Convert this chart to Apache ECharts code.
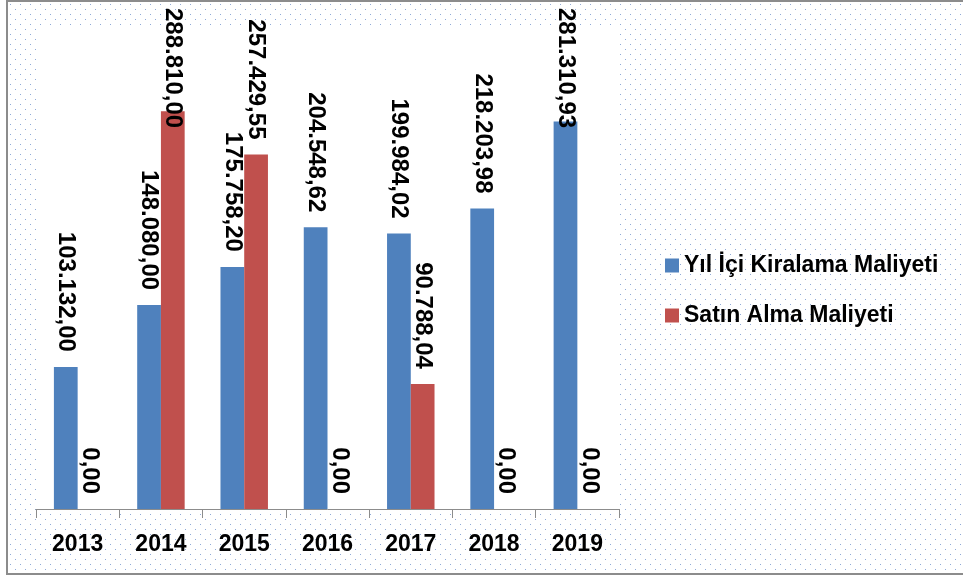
<!DOCTYPE html>
<html>
<head>
<meta charset="utf-8">
<script src="https://cdn.jsdelivr.net/npm/echarts@6/dist/echarts.min.js"></script>
<style>
  html, body { margin: 0; padding: 0; background: #fff; }
  #wrap { position: relative; width: 963px; height: 581px; overflow: hidden; background: #fff; }
  #frame { position: absolute; left: 6px; top: 0px; width: 980px; height: 575px; border: 2px solid #8c8c8c; box-sizing: border-box; }
  #chart { position: absolute; left: 0; top: 0; width: 963px; height: 581px; }
</style>
</head>
<body>
<div id="wrap">
  <div id="frame"></div>
  <div id="chart"></div>
</div>
<script>
const categories = ['2013', '2014', '2015', '2016', '2017', '2018', '2019'];
const seriesNames = ['Yıl İçi Kiralama Maliyeti', 'Satın Alma Maliyeti'];
const kiralama = [103132.00, 148080.00, 175758.20, 204548.62, 199984.02, 218203.98, 281310.93];
const satinAlma = [0, 288810.00, 257429.55, 0, 90788.04, 0, 0];

// dotted background pattern
(function () {
  const c = document.createElement('canvas');
  c.width = 10; c.height = 10;
  const ctx = c.getContext('2d');
  ctx.fillStyle = '#8eaad8';
  ctx.fillRect(2, 2, 1, 1);
  ctx.fillRect(7, 7, 1, 1);
  const f = document.getElementById('frame');
  f.style.backgroundImage = 'url(' + c.toDataURL() + ')';
  f.style.backgroundPosition = '0px 0px';
})();

function fmt(v) {
  const parts = v.toFixed(2).split('.');
  return parts[0].replace(/\B(?=(\d{3})+(?!\d))/g, '.') + ',' + parts[1];
}

const FONT = '"Liberation Sans", Arial, sans-serif';

const labelCfg = {
  show: true,
  position: 'top',
  distance: 15,
  rotate: -90,
  align: 'right',
  verticalAlign: 'middle',
  color: '#000',
  fontFamily: FONT,
  fontWeight: 'bold',
  fontSize: 24,
  formatter: p => fmt(p.value)
};

// keep rotated labels inside the chart (offset is along the text direction, i.e. downward)
function clampTop(p) {
  const minTop = 8;
  if (p.labelRect.y < minTop) return { dx: minTop - p.labelRect.y };
  return {};
}

const chart = echarts.init(document.getElementById('chart'), null, { renderer: 'canvas' });
chart.setOption({
  backgroundColor: 'transparent',
  animation: false,
  grid: {
    left: 36, right: 344, top: 27, bottom: 72,
    show: true, backgroundColor: '#fff', borderWidth: 0,
    containLabel: false
  },
  legend: {
    orient: 'vertical',
    left: 660, top: 249,
    itemWidth: 14, itemHeight: 14,
    itemGap: 27,
    icon: 'rect',
    textStyle: { color: '#000', fontFamily: FONT, fontWeight: 'bold', fontSize: 23, lineHeight: 22 },
    data: seriesNames
  },
  xAxis: {
    type: 'category',
    data: categories,
    axisLine: { lineStyle: { color: '#8c8c8c', width: 1 } },
    axisTick: { show: true, length: 9, lineStyle: { color: '#8c8c8c' } },
    axisLabel: { color: '#000', fontFamily: FONT, fontWeight: 'bold', fontSize: 23, margin: 24 }
  },
  yAxis: {
    type: 'value', min: 0, max: 350000, show: false,
    splitLine: { show: false }
  },
  series: [
    {
      name: seriesNames[0], type: 'bar', data: kiralama,
      barGap: '0%', barCategoryGap: '43%',
      itemStyle: { color: '#4F81BD' },
      label: labelCfg,
      labelLayout: clampTop
    },
    {
      name: seriesNames[1], type: 'bar', data: satinAlma,
      barGap: '0%', barCategoryGap: '43%',
      itemStyle: { color: '#C0504D' },
      label: labelCfg,
      labelLayout: clampTop
    }
  ]
});
</script>
</body>
</html>
